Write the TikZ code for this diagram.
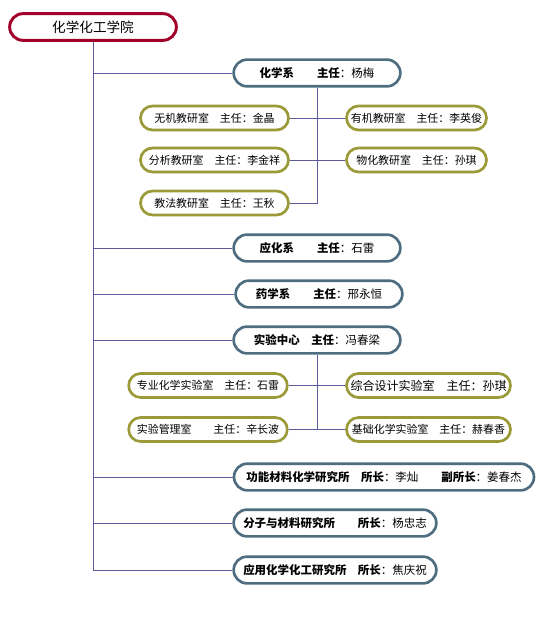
\documentclass[tikz,border=0pt]{standalone}
\usepackage{fontspec}
\newfontfamily\cjk{Noto Sans CJK SC}
\definecolor{rootred}{HTML}{A0002A}
\definecolor{deptblue}{HTML}{4F6D80}
\definecolor{labolive}{HTML}{9A9A38}
\definecolor{linkblue}{HTML}{5C5C9C}
\begin{document}
\begin{tikzpicture}
          [x=0.75pt,y=-0.75pt,
           every node/.style={font=\cjk\fontsize{8.6}{10}\selectfont,inner sep=0pt,fill=white},
           root/.style={draw=rootred,line width=2.2pt,rounded corners=10pt,
             minimum width=125pt,minimum height=20pt,font=\cjk\fontsize{10.2}{12}\selectfont},
           dept/.style={draw=deptblue,line width=2pt,rounded corners=10pt,minimum height=20pt},
           lab/.style={draw=labolive,line width=2pt,rounded corners=9pt,minimum height=18pt,
             font=\cjk\fontsize{8.2}{9}\selectfont},
           link/.style={draw=linkblue,line width=0.7pt}]
          \useasboundingbox (0,0) rectangle (554,620);

          \node[root] (root) at (93,27) {化学化工学院};

          \node[dept,minimum width=125pt] (hx) at (317,73)  {\textbf{化学系}\qquad\textbf{主任}：杨梅};
          \node[dept,minimum width=125pt] (yh) at (317,248) {\textbf{应化系}\qquad\textbf{主任}：石雷};
          \node[dept,minimum width=125pt] (yx) at (319,294) {\textbf{药学系}\qquad\textbf{主任}：邢永恒};
          \node[dept,minimum width=125pt] (sy) at (317,340) {\textbf{实验中心}\quad\textbf{主任}：冯春梁};
          \node[dept,minimum width=225pt] (gn) at (384,477) {\textbf{功能材料化学研究所}\quad\textbf{所长}：李灿\qquad\textbf{副所长}：姜春杰};
          \node[dept,minimum width=152pt] (fz) at (335,523) {\textbf{分子与材料研究所}\qquad\textbf{所长}：杨忠志};
          \node[dept,minimum width=152pt] (yy) at (335,570) {\textbf{应用化学化工研究所}\quad\textbf{所长}：焦庆祝};

          \node[lab,minimum width=111pt] (wj) at (214.5,118) {无机教研室\quad 主任：金晶};
          \node[lab,minimum width=105pt] (yj) at (416.5,118) {有机教研室\quad 主任：李英俊};
          \node[lab,minimum width=111pt] (fx) at (214.5,160) {分析教研室\quad 主任：李金祥};
          \node[lab,minimum width=105pt] (wh) at (416.5,160) {物化教研室\quad 主任：孙琪};
          \node[lab,minimum width=111pt] (jf) at (214.5,203) {教法教研室\quad 主任：王秋};

          \node[lab,minimum width=119pt] (zy) at (208,385.5)   {专业化学实验室\quad 主任：石雷};
          \node[lab,minimum width=123pt,font=\cjk\fontsize{9}{10}\selectfont] (zh) at (428.5,385.5) {综合设计实验室\quad 主任：孙琪};
          \node[lab,minimum width=119pt] (gl) at (208,429.5)   {实验管理室\qquad 主任：辛长波};
          \node[lab,minimum width=123pt] (jc) at (428.5,429.5) {基础化学实验室\quad 主任：赫春香};

          % trunk and branches
          \draw[link] (root.south) -- (root.south |- yy.west);
          \foreach \n in {hx,yh,yx,sy,gn,fz,yy}
            \draw[link] (root.south |- \n.west) -- (\n.west);

          \draw[link] (hx.south) -- (hx.south |- jf.east) -- (jf.east);
          \foreach \from/\to in {wj/yj,fx/wh}
            \draw[link] (\from.east) -- (\to.west);

          \draw[link] (sy.south) -- (sy.south |- gl.east) -- (gl.east);
          \foreach \from/\to in {zy/zh,gl/jc}
            \draw[link] (\from.east) -- (\to.west);

        \end{tikzpicture}
\end{document}
